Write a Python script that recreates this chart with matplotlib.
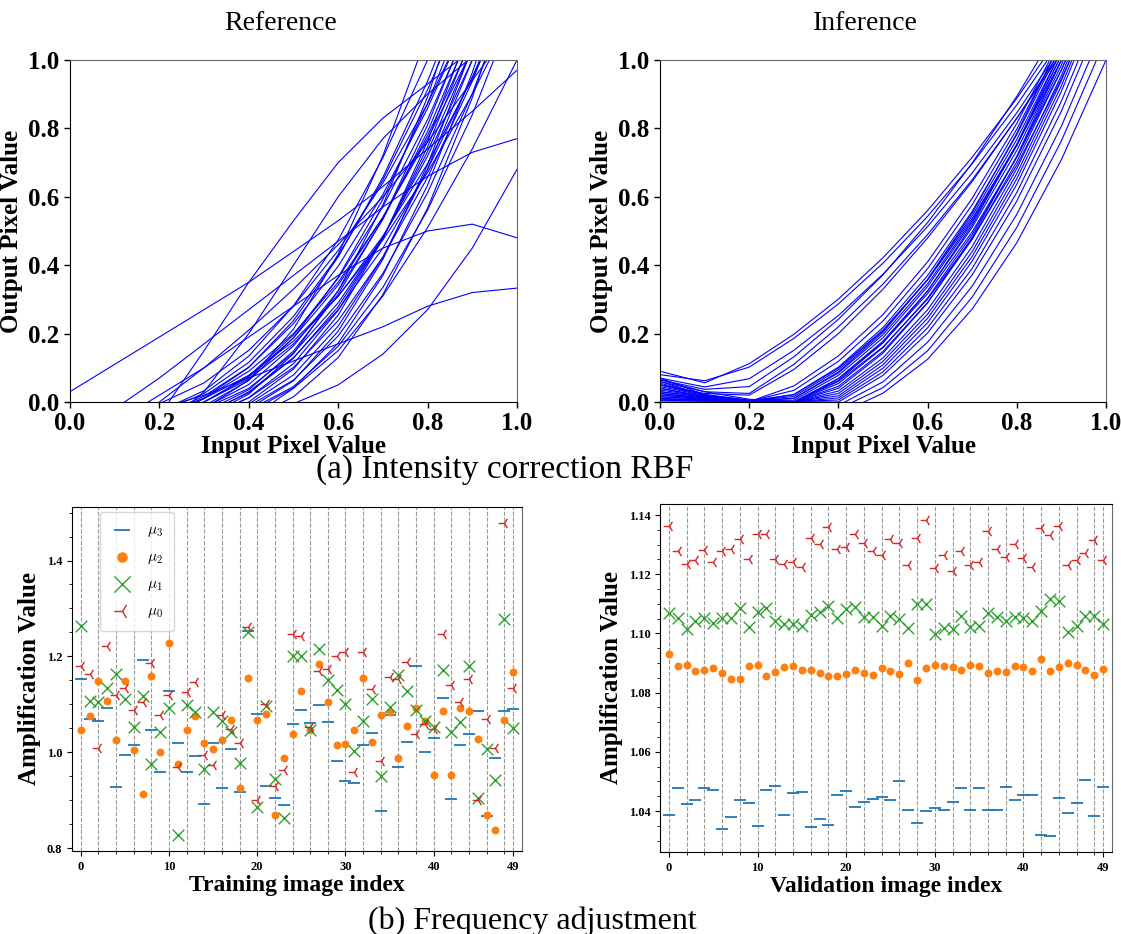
import numpy as np
import matplotlib
matplotlib.use('Agg')
import matplotlib.pyplot as plt
from matplotlib.ticker import MultipleLocator, FixedLocator, AutoMinorLocator

plt.rcParams['font.family'] = ['Liberation Serif', 'DejaVu Serif']
plt.rcParams['mathtext.fontset'] = 'cm'

# ---------------- RBF curves, y read at input = 0.0, 0.1, ..., 1.0
knot_x = [0.0, 0.1, 0.2, 0.3, 0.4, 0.5, 0.6, 0.7, 0.8, 0.9, 1.0]

ref_curves = [
    [-0.2, -0.15, -0.027, 0.033, 0.134, 0.281, 0.474, 0.714, 1.0, 1.33, 1.7],
    [-0.2, -0.15, -0.03, 0.025, 0.116, 0.250, 0.428, 0.649, 0.913, 1.219, 1.6],
    [-0.2, -0.15, -0.04, 0.017, 0.102, 0.229, 0.397, 0.607, 0.859, 1.152, 1.5],
    [-0.2, -0.15, -0.045, 0.012, 0.101, 0.238, 0.424, 0.657, 0.938, 1.267, 1.6],
    [-0.2, -0.15, -0.05, 0.0, 0.076, 0.196, 0.362, 0.571, 0.826, 1.125, 1.5],
    [-0.2, -0.15, -0.05, 0.0, 0.073, 0.187, 0.342, 0.540, 0.779, 1.059, 1.4],
    [-0.2, -0.15, -0.06, -0.012, 0.063, 0.188, 0.365, 0.593, 0.873, 1.206, 1.6],
    [-0.2, -0.15, -0.06, -0.017, 0.051, 0.164, 0.325, 0.534, 0.791, 1.097, 1.45],
    [-0.2, -0.15, -0.07, -0.02, 0.040, 0.143, 0.290, 0.482, 0.719, 1.0, 1.326],
    [-0.2, -0.15, -0.08, -0.03, 0.036, 0.149, 0.315, 0.536, 0.810, 1.138, 1.5],
    [-0.2, -0.15, -0.08, -0.034, 0.027, 0.128, 0.279, 0.481, 0.732, 1.032, 1.4],
    [-0.2, -0.15, -0.1, -0.048, 0.013, 0.112, 0.268, 0.479, 0.746, 1.069, 1.45],
    [-0.2, -0.15, -0.1, -0.045, 0.012, 0.101, 0.238, 0.424, 0.657, 0.938, 1.267],
    [-0.2, -0.15, -0.12, -0.064, 0.0, 0.096, 0.254, 0.477, 0.762, 1.111, 1.5],
    [-0.2, -0.15, -0.12, -0.07, -0.006, 0.079, 0.222, 0.423, 0.682, 1.0, 1.376],
    [-0.2, -0.15, -0.12, -0.07, -0.012, 0.064, 0.193, 0.376, 0.612, 0.902, 1.247],
    [-0.2, -0.15, -0.12, -0.08, -0.02, 0.062, 0.207, 0.417, 0.694, 1.037, 1.45],
    [-0.2, -0.15, -0.12, -0.08, -0.03, 0.041, 0.172, 0.370, 0.634, 0.963, 1.36],
    [-0.2, -0.15, -0.05, 0.0, 0.067, 0.170, 0.309, 0.485, 0.697, 0.946, 1.231],
    [-0.2, -0.15, -0.036, 0.010, 0.078, 0.178, 0.310, 0.474, 0.671, 0.900, 1.160],
    [-0.2, -0.15, -0.12, -0.1, -0.05, 0.015, 0.130, 0.314, 0.567, 0.890, 1.281],
    [-0.2, -0.15, -0.12, -0.08, -0.024, 0.045, 0.163, 0.335, 0.561, 0.840, 1.173],
    [-0.4, -0.25, -0.04, 0.15, 0.35, 0.53, 0.70, 0.83, 0.93, 1.03, 1.12],
    [-0.4, -0.25, -0.08, 0.03, 0.20, 0.40, 0.60, 0.77, 0.90, 1.01, 1.1],
    [0.03, 0.11, 0.19, 0.27, 0.35, 0.44, 0.53, 0.63, 0.74, 0.85, 0.97],
    [-0.12, -0.02, 0.07, 0.17, 0.27, 0.37, 0.47, 0.57, 0.66, 0.73, 0.77],
    [-0.2, -0.06, 0.02, 0.10, 0.19, 0.28, 0.37, 0.45, 0.50, 0.52, 0.48],
    [-0.15, -0.1, -0.02, 0.02, 0.07, 0.12, 0.17, 0.22, 0.28, 0.32, 0.333],
    [-0.2, -0.2, -0.15, -0.1, -0.05, -0.005, 0.05, 0.14, 0.27, 0.45, 0.68],
    [-0.2, -0.2, -0.15, -0.1, -0.05, 0.04, 0.15, 0.31, 0.51, 0.74, 1.0],
    [-0.3, -0.15, 0.0, 0.1, 0.21, 0.33, 0.46, 0.60, 0.76, 0.94, 1.12],
    [-0.2, -0.1, -0.005, 0.056, 0.151, 0.280, 0.443, 0.640, 0.872, 1.15, 1.45],
    [-0.2, -0.15, -0.07, -0.02, 0.064, 0.213, 0.432, 0.720, 1.077, 1.5, 1.9],
    [-0.2, -0.15, -0.1, -0.045, 0.023, 0.141, 0.325, 0.576, 0.892, 1.3, 1.7],
    [-0.2, -0.15, -0.06, 0.01, 0.09, 0.20, 0.35, 0.54, 0.77, 1.03, 1.3],
    [-0.2, -0.15, -0.1, -0.04, 0.03, 0.13, 0.27, 0.45, 0.68, 0.95, 1.25],
]

inf_curves = [
    [0.09, 0.056, 0.112, 0.198, 0.301, 0.422, 0.560, 0.716, 0.888, 1.078, 1.3],
    [0.08, 0.062, 0.102, 0.186, 0.287, 0.406, 0.543, 0.697, 0.869, 1.059, 1.28],
    [0.07, 0.044, 0.068, 0.151, 0.253, 0.374, 0.513, 0.670, 0.846, 1.040, 1.26],
    [0.065, 0.037, 0.045, 0.132, 0.242, 0.372, 0.525, 0.699, 0.894, 1.111, 1.35],
    [0.06, 0.03, 0.025, 0.11, 0.22, 0.345, 0.49, 0.65, 0.83, 1.02, 1.22],
    [0.05, 0.025, 0.02, 0.095, 0.20, 0.33, 0.48, 0.645, 0.83, 1.03, 1.25],
    [0.07, 0.021, 0.001, 0.047, 0.135, 0.256, 0.410, 0.596, 0.815, 1.066, 1.35],
    [0.06, 0.020, 0.002, 0.034, 0.119, 0.237, 0.390, 0.577, 0.798, 1.054, 1.34],
    [0.055, 0.021, 0.003, 0.022, 0.102, 0.218, 0.370, 0.558, 0.782, 1.041, 1.33],
    [0.05, 0.020, 0.003, 0.016, 0.094, 0.208, 0.358, 0.545, 0.768, 1.028, 1.32],
    [0.045, 0.019, 0.004, 0.011, 0.088, 0.204, 0.359, 0.553, 0.786, 1.057, 1.37],
    [0.04, 0.017, 0.004, 0.005, 0.078, 0.188, 0.338, 0.525, 0.750, 1.014, 1.3],
    [0.035, 0.016, 0.004, 0.0, 0.069, 0.178, 0.325, 0.511, 0.736, 1.0, 1.303],
    [0.03, 0.014, 0.004, 0.0, 0.063, 0.173, 0.325, 0.518, 0.753, 1.029, 1.35],
    [0.03, 0.014, 0.004, 0.0, 0.054, 0.159, 0.304, 0.490, 0.717, 0.986, 1.295],
    [0.025, 0.012, 0.004, 0.0, 0.046, 0.148, 0.291, 0.476, 0.703, 0.971, 1.281],
    [0.02, 0.010, 0.003, 0.0, 0.040, 0.143, 0.290, 0.482, 0.719, 1.0, 1.326],
    [0.02, 0.010, 0.004, 0.0, 0.032, 0.129, 0.270, 0.455, 0.683, 0.955, 1.272],
    [0.015, 0.008, 0.003, 0.0, 0.025, 0.119, 0.257, 0.440, 0.668, 0.940, 1.257],
    [0.015, 0.008, 0.003, 0.001, 0.018, 0.109, 0.245, 0.426, 0.653, 0.925, 1.242],
    [0.01, 0.005, 0.002, 0.0, 0.012, 0.099, 0.232, 0.412, 0.637, 0.909, 1.228],
    [0.01, 0.006, 0.002, 0.001, 0.006, 0.088, 0.217, 0.391, 0.613, 0.880, 1.194],
    [0.008, 0.005, 0.002, 0.001, 0.0, 0.078, 0.202, 0.372, 0.588, 0.851, 1.160],
    [0.005, 0.003, 0.001, 0.0, -0.01, 0.059, 0.175, 0.339, 0.549, 0.807, 1.112],
    [0.003, 0.002, 0.001, 0.0, -0.02, 0.042, 0.150, 0.307, 0.511, 0.764, 1.064],
    [-0.05, -0.05, -0.05, -0.05, -0.035, 0.026, 0.125, 0.272, 0.466, 0.709, 1.0],
    [0.04, 0.015, 0.002, 0.021, 0.099, 0.211, 0.357, 0.537, 0.752, 1.0, 1.283],
    [0.05, 0.022, 0.006, 0.0, 0.068, 0.174, 0.317, 0.498, 0.716, 0.972, 1.266],
    [0.025, 0.010, 0.002, 0.010, 0.085, 0.197, 0.346, 0.531, 0.754, 1.014, 1.31],
    [0.065, 0.030, 0.008, 0.0, 0.060, 0.161, 0.301, 0.478, 0.693, 0.945, 1.235],
]

# ---------------- frequency adjustment (mu0..mu3 per image)
image_idx = list(range(50))

train_mu3 = [1.153, 1.070, 1.065, 1.093, 0.927, 0.994, 1.015, 1.193, 1.047, 0.958,
             1.127, 1.019, 0.959, 0.992, 0.892, 1.019, 0.926, 1.008, 0.918, 1.254,
             1.079, 0.929, 0.905, 0.890, 1.059, 1.088, 1.062, 1.098, 1.063, 0.981,
             0.941, 0.936, 1.016, 1.041, 0.878, 1.077, 0.970, 1.022, 1.181, 1.001,
             1.030, 1.113, 0.902, 1.015, 1.038, 1.086, 0.868, 0.989, 1.086, 1.090]
train_mu2 = [1.046, 1.076, 1.149, 1.108, 1.026, 1.149, 1.004, 0.914, 1.159, 1.001,
             1.229, 0.976, 1.047, 1.076, 1.019, 1.006, 1.025, 1.068, 0.925, 1.155,
             1.068, 1.079, 0.869, 0.988, 1.038, 1.128, 1.046, 1.184, 1.104, 1.015,
             1.018, 1.046, 1.155, 1.021, 1.077, 1.084, 0.988, 1.054, 1.093, 1.065,
             0.952, 1.086, 0.953, 1.093, 1.086, 1.028, 0.869, 0.839, 1.068, 1.168]
train_mu1 = [1.263, 1.107, 1.104, 1.134, 1.163, 1.111, 1.053, 1.118, 0.975, 1.042,
             1.092, 0.827, 1.099, 1.084, 0.966, 1.084, 1.066, 1.042, 0.977, 1.251,
             0.887, 1.097, 0.945, 0.864, 1.201, 1.201, 1.046, 1.216, 1.150, 1.131,
             1.101, 1.002, 1.065, 1.111, 0.950, 1.095, 1.162, 1.127, 1.088, 1.066,
             1.052, 1.172, 1.042, 1.063, 1.180, 0.905, 1.008, 0.942, 1.277, 1.051]
train_mu0 = [1.180, 1.164, 1.009, 1.222, 1.120, 1.135, 1.089, 1.104, 1.187, 1.078,
             1.120, 0.969, 1.125, 1.147, 0.995, 0.973, 1.078, 1.049, 1.019, 1.261,
             0.900, 1.100, 0.930, 0.963, 1.246, 1.242, 1.053, 1.170, 1.173, 1.201,
             1.210, 0.958, 1.209, 1.132, 0.983, 1.158, 1.153, 1.189, 1.039, 1.059,
             1.049, 1.246, 1.140, 1.106, 1.153, 0.901, 1.070, 1.009, 1.479, 1.134]

val_mu3 = [1.0386, 1.0477, 1.0425, 1.0436, 1.0479, 1.0470, 1.0340, 1.0381, 1.0438, 1.0426,
           1.0348, 1.0472, 1.0485, 1.0388, 1.0461, 1.0463, 1.0346, 1.0373, 1.0354, 1.0455,
           1.0468, 1.0412, 1.0430, 1.0442, 1.0449, 1.0436, 1.0502, 1.0405, 1.0359, 1.0400,
           1.0411, 1.0402, 1.0429, 1.0477, 1.0402, 1.0479, 1.0405, 1.0402, 1.0482, 1.0438,
           1.0454, 1.0455, 1.0318, 1.0315, 1.0443, 1.0393, 1.0426, 1.0504, 1.0383, 1.0480]
val_mu2 = [1.0929, 1.0889, 1.0893, 1.0874, 1.0877, 1.0882, 1.0865, 1.0847, 1.0847, 1.0890,
           1.0895, 1.0856, 1.0871, 1.0886, 1.0890, 1.0877, 1.0877, 1.0866, 1.0856, 1.0855,
           1.0862, 1.0877, 1.0868, 1.0858, 1.0882, 1.0872, 1.0862, 1.0901, 1.0842, 1.0884,
           1.0895, 1.0890, 1.0885, 1.0875, 1.0893, 1.0890, 1.0868, 1.0872, 1.0871, 1.0891,
           1.0886, 1.0872, 1.0912, 1.0873, 1.0886, 1.0901, 1.0895, 1.0875, 1.0859, 1.0880]
val_mu1 = [1.1068, 1.1052, 1.1014, 1.1042, 1.1052, 1.1035, 1.1052, 1.1053, 1.1085, 1.1021,
           1.1073, 1.1086, 1.1043, 1.1031, 1.1031, 1.1024, 1.1061, 1.1072, 1.1093, 1.1053,
           1.1081, 1.1088, 1.1057, 1.1056, 1.1024, 1.1060, 1.1048, 1.1017, 1.1100, 1.1098,
           1.0998, 1.1017, 1.1014, 1.1059, 1.1022, 1.1026, 1.1069, 1.1056, 1.1041, 1.1056,
           1.1053, 1.1042, 1.1077, 1.1118, 1.1110, 1.1006, 1.1024, 1.1060, 1.1060, 1.1032]
val_mu0 = [1.1362, 1.1277, 1.1233, 1.1248, 1.1283, 1.1242, 1.1280, 1.1285, 1.1318, 1.1251,
           1.1337, 1.1337, 1.1250, 1.1236, 1.1242, 1.1224, 1.1321, 1.1302, 1.1360, 1.1284,
           1.1293, 1.1337, 1.1306, 1.1277, 1.1266, 1.1318, 1.1304, 1.1232, 1.1321, 1.1384,
           1.1222, 1.1265, 1.1210, 1.1277, 1.1232, 1.1242, 1.1347, 1.1284, 1.1260, 1.1302,
           1.1256, 1.1223, 1.1355, 1.1332, 1.1362, 1.1230, 1.1249, 1.1271, 1.1317, 1.1247]

fig = plt.figure(figsize=(11.21, 9.34), dpi=100)

# ################## top row: intensity correction curves
def curve_panel(rect, curves, title, tx):
    ax = fig.add_axes(rect)
    for ys in curves:
        ax.plot(knot_x, ys, color='blue', lw=0.8)
    ax.set_xlim(0, 1)
    ax.set_ylim(0, 1)
    ax.xaxis.set_major_locator(MultipleLocator(0.2))
    ax.yaxis.set_major_locator(MultipleLocator(0.2))
    ax.tick_params(labelsize=18, width=1, length=4)
    for lab in ax.get_xticklabels() + ax.get_yticklabels():
        lab.set_fontweight('bold')
    ax.set_xlabel('Input Pixel Value', fontsize=18, fontweight='bold', labelpad=0)
    ax.set_ylabel('Output Pixel Value', fontsize=18, fontweight='bold', labelpad=4)
    for s in ['top', 'right']:
        ax.spines[s].set_color('#666666')
    fig.text(tx, 0.975, title, fontsize=20, ha='center', va='center')
    return ax

curve_panel([0.0624, 0.5696, 0.3988, 0.3662], ref_curves, 'Reference', 0.250)
curve_panel([0.5888, 0.5696, 0.3979, 0.3662], inf_curves, 'Inference', 0.772)
fig.text(0.45, 0.497, '(a) Intensity correction RBF', fontsize=24, ha='center', va='center')

# ################## bottom row: amplification values
def amp_panel(rect, mu3, mu2, mu1, mu0, xlabel, legend, ystep):
    ax = fig.add_axes(rect)
    ax.scatter(image_idx, mu3, marker='_', s=70, color='C0', linewidths=1.3, label=r'$\mu_3$', zorder=3)
    ax.scatter(image_idx, mu2, marker='o', s=22, color='C1', label=r'$\mu_2$', zorder=3)
    ax.scatter(image_idx, mu1, marker='x', s=70, color='C2', linewidths=1.0, label=r'$\mu_1$', zorder=3)
    ax.scatter(image_idx, mu0, marker='3', s=70, color='C3', linewidths=1.0, label=r'$\mu_0$', zorder=3)
    ax.set_xlim(-1, 50)
    ax.set_xticks([0, 10, 20, 30, 40, 49])
    ax.xaxis.set_minor_locator(FixedLocator(list(range(0, 50, 2))))
    ax.yaxis.set_major_locator(MultipleLocator(ystep))
    ax.yaxis.set_minor_locator(AutoMinorLocator(4))
    ax.grid(True, axis='x', which='both', linestyle='--', color='#999999', linewidth=0.8)
    ax.tick_params(labelsize=9)
    for lab in ax.get_xticklabels() + ax.get_yticklabels():
        lab.set_fontweight('bold')
    ax.set_xlabel(xlabel, fontsize=17, fontweight='bold', labelpad=2)
    ax.set_ylabel('Amplification Value', fontsize=18, fontweight='bold')
    ax.spines['right'].set_color('#666666')
    if legend:
        ax.legend(loc='upper left', bbox_to_anchor=(0.062, 0.985), borderaxespad=0,
                  fontsize=11, markerscale=1.4, labelspacing=0.75, borderpad=0.7,
                  handlelength=1.5, handletextpad=0.9)
    return ax

amp_panel([0.0642, 0.0889, 0.4014, 0.3683], train_mu3, train_mu2, train_mu1, train_mu0,
          'Training image index', True, 0.2)
amp_panel([0.5888, 0.0878, 0.4032, 0.3726], val_mu3, val_mu2, val_mu1, val_mu0,
          'Validation image index', False, 0.02)
fig.text(0.475, 0.014, '(b) Frequency adjustment', fontsize=23, ha='center', va='center')

fig.savefig('out.png', dpi=100)
